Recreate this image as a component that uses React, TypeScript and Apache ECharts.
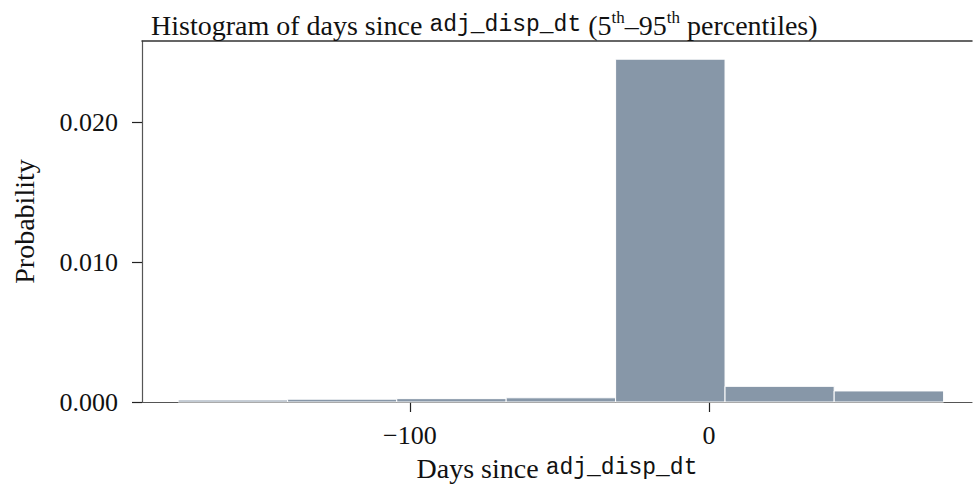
import React, { useEffect, useRef } from "react";
import * as echarts from "echarts";

// Histogram bin edges (days since adj_disp_dt) and probabilities
const binEdges: number[] = [-177.5, -140.9, -104.4, -67.8, -31.2, 5.4, 41.9, 78.5];
const probabilities: number[] = [0.00014, 0.0002, 0.00024, 0.0003, 0.0245, 0.00112, 0.00079];
const xTicks: number[] = [-100, 0];
const yTicks: number[] = [0, 0.01, 0.02];

const SERIF = "'Liberation Serif', 'DejaVu Serif', serif";
const MONO = "'Liberation Mono', 'DejaVu Sans Mono', monospace";
const AXIS_COLOR = "#555555";
const BAR_COLOR = "#8797a8";
const FS = 26; // tick labels
const NFS = 28; // names / title serif
const MFS = 23; // monospace

export default function App() {
  const ref = useRef<HTMLDivElement>(null);

  useEffect(() => {
    if (!ref.current) return;
    const chart = echarts.init(ref.current, null, { renderer: "svg" });

    const data = probabilities.map((p, i) => [binEdges[i], binEdges[i + 1], p]);

    chart.setOption({
      animation: false,
      backgroundColor: "#ffffff",
      title: {
        left: 146,
        top: 4,
        text:
          "{a|Histogram of days since }{m|adj_disp_dt}{a| (5}{s|th}{a|–95}{s|th}{a| percentiles)}",
        textStyle: {
          fontWeight: "normal",
          rich: {
            a: { fontFamily: SERIF, fontSize: NFS, fontWeight: "normal", color: "#111", lineHeight: 32 },
            m: { fontFamily: MONO, fontSize: MFS, fontWeight: "normal", color: "#111", lineHeight: 32 },
            s: { fontFamily: SERIF, fontSize: 17, fontWeight: "normal", color: "#111", lineHeight: 32, verticalAlign: "top" },
          },
        },
      },
      grid: { left: 142, right: 2, top: 41, bottom: 87, containLabel: false },
      xAxis: [
        {
          type: "value",
          min: -189.6,
          max: 88,
          splitLine: { show: false },
          axisLine: { show: true, onZero: false, lineStyle: { color: AXIS_COLOR, width: 1.2 } },
          axisTick: {
            show: true,
            length: 10,
            customValues: xTicks,
            lineStyle: { color: "#222", width: 1.2 },
          },
          axisLabel: {
            customValues: xTicks,
            margin: 20,
            fontFamily: SERIF,
            fontSize: FS,
            color: "#111",
            formatter: (v: number) => (v < 0 ? "\u2212" + Math.abs(v) : String(v)),
          },
          name: "{a|Days since }{m|adj_disp_dt}",
          nameLocation: "middle",
          nameGap: 52,
          nameTextStyle: {
            rich: {
              a: { fontFamily: SERIF, fontSize: NFS, color: "#111" },
              m: { fontFamily: MONO, fontSize: MFS, color: "#111" },
            },
          },
        },
        {
          type: "value",
          position: "top",
          min: -189.6,
          max: 88,
          splitLine: { show: false },
          axisLine: { show: true, onZero: false, lineStyle: { color: "#333", width: 1.5 } },
          axisTick: { show: false },
          axisLabel: { show: false },
        },
      ],
      yAxis: {
        type: "value",
        min: 0,
        max: 0.0258,
        splitLine: { show: false },
        axisLine: { show: true, onZero: false, lineStyle: { color: AXIS_COLOR, width: 1.2 } },
        axisTick: {
          show: true,
          length: 10,
          customValues: yTicks,
          lineStyle: { color: "#222", width: 1.2 },
        },
        axisLabel: {
          customValues: yTicks,
          margin: 24,
          fontFamily: SERIF,
          fontSize: FS,
          color: "#111",
          formatter: (v: number) => v.toFixed(3),
        },
        name: "Probability",
        nameLocation: "middle",
        nameGap: 104,
        nameTextStyle: { fontFamily: SERIF, fontSize: NFS, color: "#111" },
      },
      series: [
        {
          type: "custom",
          xAxisIndex: 0,
          data,
          renderItem: (params: any, api: any) => {
            const x0 = api.value(0);
            const x1 = api.value(1);
            const h = api.value(2);
            const p0 = api.coord([x0, h]);
            const p1 = api.coord([x1, 0]);
            return {
              type: "rect",
              shape: { x: p0[0], y: p0[1], width: p1[0] - p0[0], height: p1[1] - p0[1] },
              style: { fill: BAR_COLOR, stroke: "#ffffff", lineWidth: 1 },
            };
          },
        },
      ],
    });

    return () => chart.dispose();
  }, []);

  return (
    <div
      ref={ref}
      style={{ position: "fixed", left: 0, top: 0, width: 974, height: 489 }}
    />
  );
}
